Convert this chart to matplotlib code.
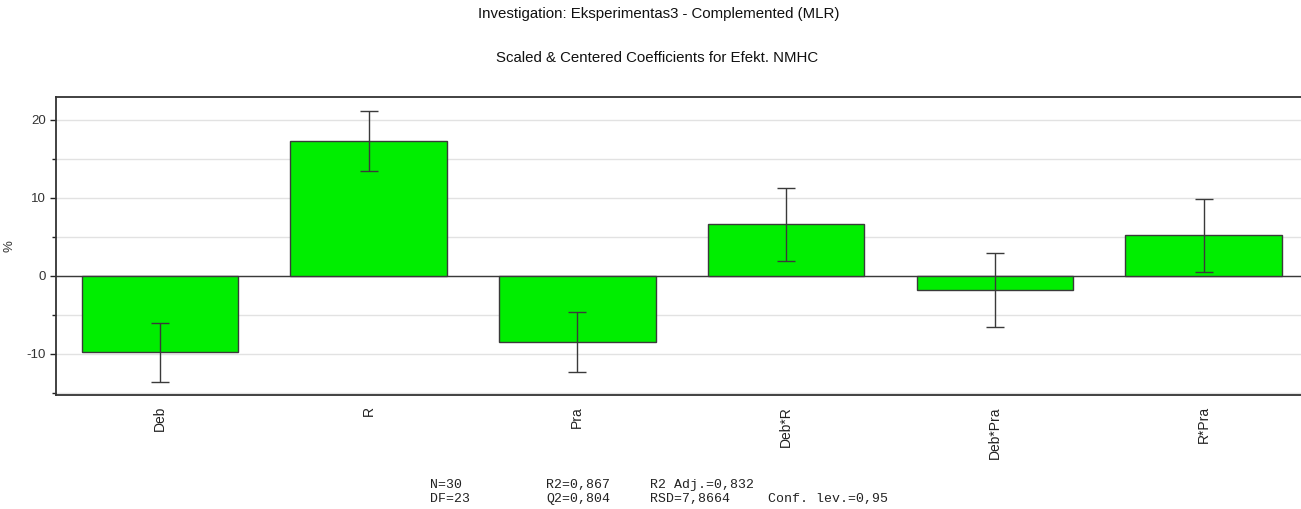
import numpy as np
import matplotlib
matplotlib.use("Agg")
import matplotlib.pyplot as plt
from matplotlib.ticker import MultipleLocator

plt.rcParams["axes.unicode_minus"] = False

# Scaled & centered coefficients with confidence intervals
terms = ["Deb", "R", "Pra", "Deb*R", "Deb*Pra", "R*Pra"]
coef = [-9.8, 17.3, -8.5, 6.6, -1.8, 5.2]
conf_int = [3.8, 3.8, 3.85, 4.7, 4.7, 4.7]

stats_rows = [
    ["N=30", "R2=0,867", "R2 Adj.=0,832", ""],
    ["DF=23", "Q2=0,804", "RSD=7,8664", "Conf. lev.=0,95"],
]

W, H = 1301, 509
fig = plt.figure(figsize=(W / 100, H / 100), dpi=100)
fig.patch.set_facecolor("white")

# axes box in pixels (left, top, right, bottom); right side runs past the canvas
left, top, right, bottom = 55.5, 97.3, 1308.0, 395.0
ax = fig.add_axes([left / W, 1 - bottom / H, (right - left) / W, (bottom - top) / H])

x = np.arange(len(terms))
ax.bar(x, coef, width=0.75, color="#00ee00", edgecolor="#3a3a3a", linewidth=1.0, zorder=3)
ax.errorbar(x, coef, yerr=conf_int, fmt="none", ecolor="#3a3a3a", elinewidth=1.0,
            capsize=6.5, capthick=1.0, zorder=4)

ax.axhline(0, color="#3a3a3a", linewidth=1.0, zorder=2)

ax.set_xlim(-0.5, 5.5)
ax.set_ylim(-15.26, 22.9)
ax.yaxis.set_major_locator(MultipleLocator(10))
ax.yaxis.set_minor_locator(MultipleLocator(5))
ax.grid(True, which="both", axis="y", color="#e2e2e2", linewidth=1.0, zorder=0)

ax.set_xticks(x)
ax.set_xticklabels(terms, rotation=90, fontsize=10, family="Liberation Sans",
                   va="top", color="#222222")
ax.tick_params(axis="x", length=0, pad=8)
ax.tick_params(axis="y", which="major", length=4, width=1.0, labelsize=9.5,
               color="#222222", labelcolor="#333333", pad=3)
ax.tick_params(axis="y", which="minor", length=3, width=1.0, color="#222222")
for lbl in ax.get_yticklabels():
    lbl.set_family("Liberation Sans")

for side in ["left", "top", "bottom"]:
    ax.spines[side].set_color("#333333")
    ax.spines[side].set_linewidth(1.3)
ax.spines["right"].set_visible(False)

ax.set_ylabel("%", fontsize=9.5, family="Liberation Sans", color="#333333")
ax.yaxis.set_label_coords((15 - left) / (right - left), 0.5)

fig.text(659 / W, 1 - 14 / H, "Investigation: Eksperimentas3 - Complemented (MLR)",
         ha="center", va="center", fontsize=10.8, family="Liberation Sans", color="#111111")
fig.text(657 / W, 1 - 58 / H, "Scaled & Centered Coefficients for Efekt. NMHC",
         ha="center", va="center", fontsize=10.8, family="Liberation Sans", color="#111111")

# model summary printed under the chart
col_x = [430, 546, 650, 768]
row_y = [485, 499]
for ry, row in zip(row_y, stats_rows):
    for cx, txt in zip(col_x, row):
        if txt:
            fig.text(cx / W, 1 - ry / H, txt, ha="left", va="center", fontsize=9.5,
                     family="Liberation Mono", color="#222222")

fig.savefig("out.png", dpi=100, facecolor="white")
